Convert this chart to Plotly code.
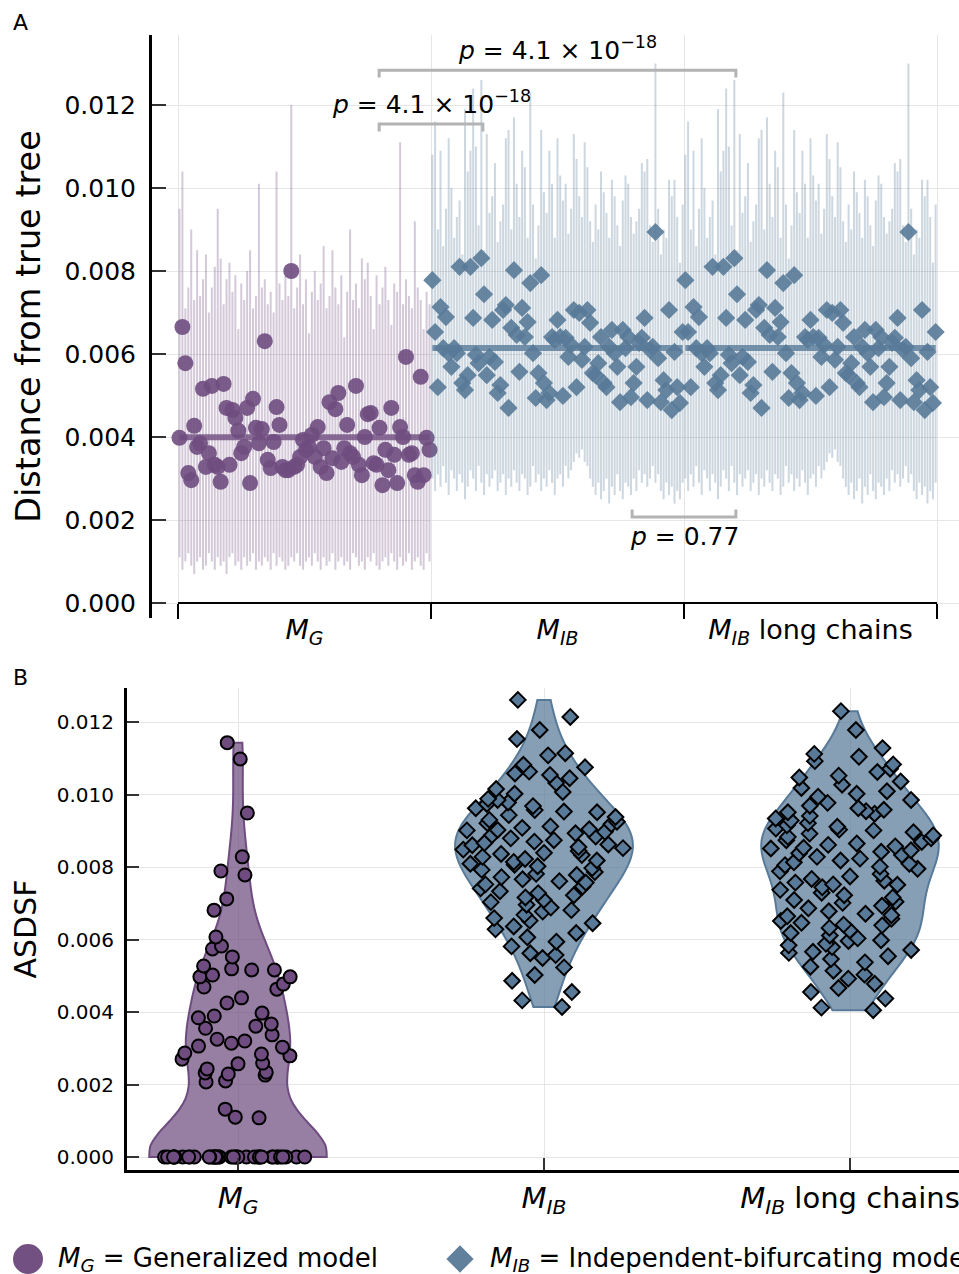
import numpy as np
import plotly.graph_objects as go

# ---------------- data ----------------
GROUP_LABELS = ["<i>M</i><sub><i>G</i></sub>",
                "<i>M</i><sub><i>IB</i></sub>",
                "<i>M</i><sub><i>IB</i></sub> long chains"]
LEGEND_LABELS = ["<i>M</i><sub><i>G</i></sub> = Generalized model",
                 "<i>M</i><sub><i>IB</i></sub> = Independent-bifurcating model"]
Y_TICKS = [0.000, 0.002, 0.004, 0.006, 0.008, 0.010, 0.012]

# Panel A: distance from true tree, point estimate with interval, per replicate
MG_DIST = [0.00398, 0.00665, 0.00578, 0.00313, 0.00296, 0.00427, 0.00376, 0.00385, 0.00516, 0.00328,
           0.00361, 0.00523, 0.00333, 0.00328, 0.00292, 0.00528, 0.00470, 0.00333, 0.00465, 0.00446,
           0.00415, 0.00361, 0.00376, 0.00470, 0.00289, 0.00492, 0.00422, 0.00385, 0.00419, 0.00631,
           0.00345, 0.00325, 0.00388, 0.00472, 0.00429, 0.00328, 0.00320, 0.00320, 0.00800, 0.00328,
           0.00333, 0.00352, 0.00393, 0.00369, 0.00376, 0.00405, 0.00352, 0.00424, 0.00328, 0.00373,
           0.00313, 0.00484, 0.00349, 0.00467, 0.00506, 0.00340, 0.00373, 0.00429, 0.00361, 0.00352,
           0.00523, 0.00333, 0.00308, 0.00400, 0.00455, 0.00458, 0.00337, 0.00333, 0.00422, 0.00284,
           0.00369, 0.00320, 0.00470, 0.00357, 0.00289, 0.00424, 0.00400, 0.00593, 0.00357, 0.00361,
           0.00308, 0.00292, 0.00545, 0.00308, 0.00398, 0.00369]
MG_LO = [0.0011, 0.0008, 0.0010, 0.0012, 0.0009, 0.0007, 0.0010, 0.0011, 0.0008, 0.0009,
         0.0012, 0.0010, 0.0008, 0.0011, 0.0009, 0.0010, 0.0007, 0.0011, 0.0012, 0.0009,
         0.0010, 0.0008, 0.0011, 0.0009, 0.0010, 0.0012, 0.0008, 0.0010, 0.0009, 0.0011,
         0.0010, 0.0008, 0.0012, 0.0009, 0.0011, 0.0010, 0.0008, 0.0009, 0.0011, 0.0010,
         0.0012, 0.0009, 0.0008, 0.0010, 0.0011, 0.0009, 0.0012, 0.0010, 0.0008, 0.0011,
         0.0009, 0.0010, 0.0012, 0.0008, 0.0010, 0.0011, 0.0009, 0.0010, 0.0008, 0.0012,
         0.0011, 0.0009, 0.0010, 0.0008, 0.0011, 0.0010, 0.0012, 0.0009, 0.0008, 0.0010,
         0.0011, 0.0009, 0.0012, 0.0010, 0.0008, 0.0011, 0.0009, 0.0010, 0.0012, 0.0008,
         0.0010, 0.0011, 0.0009, 0.0008, 0.0012, 0.0010]
MG_HI = [0.0095, 0.0104, 0.0071, 0.0076, 0.0090, 0.0073, 0.0085, 0.0074, 0.0078, 0.0084,
         0.0070, 0.0076, 0.0081, 0.0095, 0.0083, 0.0072, 0.0078, 0.0082, 0.0075, 0.0079,
         0.0066, 0.0077, 0.0073, 0.0080, 0.0085, 0.0071, 0.0074, 0.0101, 0.0076, 0.0078,
         0.0072, 0.0075, 0.0070, 0.0104, 0.0077, 0.0073, 0.0079, 0.0074, 0.0120, 0.0071,
         0.0076, 0.0084, 0.0072, 0.0078, 0.0065, 0.0075, 0.0080, 0.0073, 0.0077, 0.0086,
         0.0071, 0.0074, 0.0085, 0.0076, 0.0072, 0.0079, 0.0064, 0.0075, 0.0090, 0.0073,
         0.0077, 0.0071, 0.0083, 0.0078, 0.0082, 0.0074, 0.0066, 0.0079, 0.0072, 0.0076,
         0.0081, 0.0073, 0.0067, 0.0077, 0.0075, 0.0111, 0.0072, 0.0078, 0.0074, 0.0071,
         0.0092, 0.0076, 0.0073, 0.0066, 0.0075, 0.0072]

MIB_DIST = [0.00778, 0.00653, 0.00520, 0.00713, 0.00614, 0.00689, 0.00602, 0.00569, 0.00614, 0.00602,
            0.00810, 0.00530, 0.00513, 0.00549, 0.00810, 0.00687, 0.00598, 0.00578, 0.00831, 0.00744,
            0.00549, 0.00593, 0.00682, 0.00581, 0.00506, 0.00525, 0.00706, 0.00718, 0.00470, 0.00663,
            0.00802, 0.00646, 0.00557, 0.00711, 0.00641, 0.00677, 0.00771, 0.00602, 0.00494, 0.00554,
            0.00790, 0.00530, 0.00489, 0.00506, 0.00641, 0.00634, 0.00682, 0.00641, 0.00499, 0.00639,
            0.00593, 0.00622, 0.00706, 0.00520, 0.00699, 0.00586, 0.00617, 0.00706, 0.00675, 0.00554,
            0.00549, 0.00578, 0.00641, 0.00530, 0.00520, 0.00617, 0.00658, 0.00602, 0.00569, 0.00484,
            0.00658, 0.00614, 0.00641, 0.00496, 0.00530, 0.00569, 0.00627, 0.00639, 0.00687, 0.00489,
            0.00610, 0.00617, 0.00894, 0.00590, 0.00484, 0.00537, 0.00513, 0.00706, 0.00465, 0.00605,
            0.00520, 0.00482, 0.00653]
MIB_LO = [0.0030, 0.0027, 0.0031, 0.0028, 0.0033, 0.0029, 0.0026, 0.0032, 0.0030, 0.0027,
          0.0031, 0.0029, 0.0025, 0.0028, 0.0032, 0.0030, 0.0027, 0.0033, 0.0029, 0.0026,
          0.0031, 0.0028, 0.0030, 0.0032, 0.0027, 0.0029, 0.0031, 0.0026, 0.0030, 0.0028,
          0.0032, 0.0029, 0.0027, 0.0031, 0.0030, 0.0026, 0.0028, 0.0033, 0.0029, 0.0031,
          0.0027, 0.0030, 0.0028, 0.0032, 0.0029, 0.0026, 0.0030, 0.0031, 0.0028, 0.0033,
          0.0030, 0.0032, 0.0034, 0.0036, 0.0035, 0.0037, 0.0034, 0.0033, 0.0030, 0.0028,
          0.0026, 0.0029, 0.0025, 0.0027, 0.0030, 0.0024, 0.0028, 0.0026, 0.0031, 0.0027,
          0.0025, 0.0029, 0.0028, 0.0026, 0.0030, 0.0027, 0.0032, 0.0029, 0.0031, 0.0028,
          0.0030, 0.0033, 0.0029, 0.0031, 0.0027, 0.0025, 0.0029, 0.0026, 0.0028, 0.0024,
          0.0027, 0.0025, 0.0029]
MIB_HI = [0.0108, 0.0116, 0.0090, 0.0109, 0.0086, 0.0095, 0.0112, 0.0100, 0.0088, 0.0093,
          0.0097, 0.0084, 0.0119, 0.0104, 0.0109, 0.0124, 0.0110, 0.0091, 0.0126, 0.0085,
          0.0113, 0.0094, 0.0098, 0.0106, 0.0087, 0.0092, 0.0096, 0.0112, 0.0114, 0.0090,
          0.0117, 0.0101, 0.0093, 0.0109, 0.0105, 0.0088, 0.0123, 0.0096, 0.0083, 0.0091,
          0.0114, 0.0099, 0.0094, 0.0109, 0.0101, 0.0088, 0.0112, 0.0103, 0.0097, 0.0101,
          0.0089, 0.0095, 0.0113, 0.0107, 0.0098, 0.0093, 0.0111, 0.0105, 0.0092, 0.0087,
          0.0096, 0.0090, 0.0104, 0.0099, 0.0094, 0.0088, 0.0102, 0.0098, 0.0091, 0.0086,
          0.0097, 0.0103, 0.0101, 0.0093, 0.0089, 0.0092, 0.0095, 0.0106, 0.0104, 0.0107,
          0.0091, 0.0087, 0.0130, 0.0095, 0.0084, 0.0090, 0.0088, 0.0102, 0.0098, 0.0102,
          0.0093, 0.0082, 0.0096]
# the long-chain runs read identically to the M_IB runs in the reference
MIBL_DIST = list(MIB_DIST)
MIBL_LO = list(MIB_LO)
MIBL_HI = list(MIB_HI)

# p-values of the pairwise comparisons (group a, group b, label)
P_TESTS = [(0, 2, "<i>p</i> = 4.1 × 10<sup>−18</sup>"),
           (0, 1, "<i>p</i> = 4.1 × 10<sup>−18</sup>"),
           (1, 2, "<i>p</i> = 0.77")]

# Panel B: ASDSF per replicate
MG_ASDSF = [0.01143, 0.01098, 0.00949, 0.00828, 0.00789, 0.00778, 0.00712, 0.00681, 0.00607, 0.00582,
            0.00574, 0.00552, 0.00527, 0.00519, 0.00516, 0.00516, 0.00502, 0.00497, 0.00497, 0.00477,
            0.00469, 0.00463, 0.00439, 0.00425, 0.00397, 0.00389, 0.00384, 0.00367, 0.00361, 0.00355,
            0.00337, 0.00325, 0.00320, 0.00314, 0.00306, 0.00303, 0.00287, 0.00284, 0.00279, 0.00270,
            0.00259, 0.00257, 0.00243, 0.00234, 0.00232, 0.00229, 0.00226, 0.00210, 0.00207, 0.00132,
            0.00110, 0.00108,
            0.0, 0.0, 0.0, 0.0, 0.0, 0.0, 0.0, 0.0, 0.0, 0.0,
            0.0, 0.0, 0.0, 0.0, 0.0, 0.0, 0.0, 0.0, 0.0, 0.0,
            0.0, 0.0, 0.0, 0.0, 0.0, 0.0, 0.0, 0.0, 0.0, 0.0,
            0.0, 0.0, 0.0, 0.0, 0.0, 0.0, 0.0, 0.0, 0.0, 0.0]
MIB_ASDSF = [0.01261, 0.01214, 0.01178, 0.01153, 0.01114, 0.01108,
             0.01082, 0.01075, 0.01063, 0.01058, 0.01054,
             0.01045, 0.01032, 0.01015, 0.01007, 0.01002, 0.00988,
             0.00985, 0.00978, 0.00974, 0.00968, 0.00962, 0.00957, 0.00953, 0.00951,
             0.00943, 0.00938, 0.00930, 0.00925, 0.00921, 0.00918, 0.00912, 0.00908, 0.00904, 0.00902, 0.00901,
             0.00897, 0.00893, 0.00888, 0.00884, 0.00879, 0.00874, 0.00870, 0.00866, 0.00862, 0.00860, 0.00855, 0.00852,
             0.00848, 0.00844, 0.00839, 0.00836, 0.00833, 0.00828, 0.00822, 0.00818, 0.00814, 0.00809, 0.00806, 0.00802,
             0.00797, 0.00792, 0.00786, 0.00781, 0.00778, 0.00772, 0.00766, 0.00761, 0.00757, 0.00752,
             0.00746, 0.00741, 0.00733, 0.00728, 0.00722, 0.00716, 0.00709, 0.00703,
             0.00696, 0.00688, 0.00681, 0.00677, 0.00668, 0.00659, 0.00652,
             0.00645, 0.00636, 0.00628, 0.00618, 0.00606,
             0.00594, 0.00581, 0.00562, 0.00557,
             0.00549, 0.00523, 0.00502,
             0.00486, 0.00455,
             0.00432, 0.00414]
MIBL_ASDSF = [0.01230,
              0.01178,
              0.01128, 0.01112, 0.01104,
              0.01092, 0.01083, 0.01071, 0.01062, 0.01052,
              0.01047, 0.01036, 0.01027, 0.01018, 0.01009, 0.01002,
              0.00994, 0.00985, 0.00977, 0.00969, 0.00962, 0.00958, 0.00954, 0.00951,
              0.00947, 0.00941, 0.00934, 0.00928, 0.00921, 0.00915, 0.00911, 0.00906, 0.00903, 0.00901,
              0.00896, 0.00892, 0.00887, 0.00883, 0.00879, 0.00874, 0.00869, 0.00865, 0.00861, 0.00857, 0.00853, 0.00851,
              0.00846, 0.00842, 0.00838, 0.00833, 0.00828, 0.00823, 0.00818, 0.00813, 0.00809, 0.00805, 0.00801,
              0.00795, 0.00788, 0.00781, 0.00774, 0.00767, 0.00762, 0.00757, 0.00752, 0.00751,
              0.00744, 0.00737, 0.00729, 0.00722, 0.00716, 0.00709, 0.00704, 0.00701,
              0.00693, 0.00686, 0.00678, 0.00671, 0.00667, 0.00664, 0.00657, 0.00651,
              0.00646, 0.00641, 0.00639, 0.00632, 0.00625, 0.00618, 0.00611, 0.00603,
              0.00598, 0.00596, 0.00588, 0.00584, 0.00579, 0.00571, 0.00566, 0.00563, 0.00554,
              0.00546, 0.00537, 0.00525, 0.00514, 0.00503,
              0.00492, 0.00478, 0.00466, 0.00455,
              0.00437, 0.00412, 0.00405]

# ---------------- styles ----------------
FONT = "DejaVu Sans"
PURPLE = (111, 76, 128)
BLUE = (88, 122, 152)
GRID = "#e6e6e6"

W, H = 959, 1274


def rgba(c, a):
    return f"rgba({c[0]},{c[1]},{c[2]},{a})"


def px(x_img):
    return x_img / W


def py(y_img):
    return 1 - y_img / H


fig = go.Figure()

# ---------------- panel A ----------------
GROUP_SPAN = 100.0
panelA = [(MG_DIST, MG_LO, MG_HI, PURPLE, "circle", 16),
          (MIB_DIST, MIB_LO, MIB_HI, BLUE, "diamond", 14),
          (MIBL_DIST, MIBL_LO, MIBL_HI, BLUE, "diamond", 14)]

for g, (vals, lo, hi, col, sym, msize) in enumerate(panelA):
    v = np.array(vals)
    lo = np.array(lo)
    hi = np.array(hi)
    n = len(v)
    x = g * GROUP_SPAN + (np.arange(n) + 0.5) * GROUP_SPAN / n
    fig.add_trace(go.Scatter(
        x=x, y=v, mode="markers", xaxis="x", yaxis="y",
        marker=dict(size=1, color="rgba(0,0,0,0)"),
        error_y=dict(type="data", symmetric=False, array=hi - v, arrayminus=v - lo,
                     color=rgba(col, 0.3), thickness=2.0, width=0),
        showlegend=False, hoverinfo="skip"))
    m = float(np.mean(v))
    fig.add_trace(go.Scatter(
        x=[x.min(), x.max()], y=[m, m], mode="lines", xaxis="x", yaxis="y",
        line=dict(color=rgba(col, 0.8), width=6), showlegend=False, hoverinfo="skip"))
    fig.add_trace(go.Scatter(
        x=x, y=v, mode="markers", xaxis="x", yaxis="y", showlegend=False,
        marker=dict(symbol=sym, size=msize, color=rgba(col, 0.9), opacity=1,
                    line=dict(width=0))))

# x-axis baseline spanning the categories
fig.add_shape(type="line", xref="x", yref="y", x0=0, x1=3 * GROUP_SPAN, y0=0, y1=0,
              line=dict(color="black", width=2))

# comparison brackets
BRACKET_LEVELS = [0.01284, 0.01154, 0.00207]
BRACKET_SIDES = ["above", "above", "below"]
TICK = 0.00018
for (a, b, label), yl, side in zip(P_TESTS, BRACKET_LEVELS, BRACKET_SIDES):
    ca = a * GROUP_SPAN + GROUP_SPAN / 2
    cb = b * GROUP_SPAN + GROUP_SPAN / 2
    xl, xr = ca + 29.5, cb - 29.5
    ye = yl - TICK if side == "above" else yl + TICK
    fig.add_shape(type="path", xref="x", yref="y",
                  path=f"M {xl},{ye} L {xl},{yl} L {xr},{yl} L {xr},{ye}",
                  line=dict(color="#b3b3b3", width=3))
    fig.add_annotation(x=(xl + xr) / 2, y=yl, xref="x", yref="y", text=label,
                       showarrow=False, yanchor="bottom" if side == "above" else "top",
                       yshift=3 if side == "above" else -3,
                       font=dict(family=FONT, size=25, color="black"))

# ---------------- panel B ----------------
panelB = [(MG_ASDSF, PURPLE, "circle", 13, 0.001, 0.85),
          (MIB_ASDSF, BLUE, "diamond", 12, 0.0007, 0.95),
          (MIBL_ASDSF, BLUE, "diamond", 12, 0.0007, 0.95)]
for g, (vals, col, sym, msize, bw, jit) in enumerate(panelB):
    fig.add_trace(go.Violin(
        x0=g, y=vals, xaxis="x2", yaxis="y2", width=0.58, spanmode="hard",
        bandwidth=bw, scalemode="width", points="all", pointpos=0, jitter=jit,
        fillcolor=rgba(col, 0.72), line=dict(color=rgba(col, 1), width=2),
        marker=dict(symbol=sym, size=msize, color=rgba(col, 1), opacity=1,
                    line=dict(color="black", width=2)),
        box=dict(visible=False), meanline=dict(visible=False),
        showlegend=False, hoverinfo="y"))

# ---------------- legend (keys on a hidden axis strip) ----------------
LEG_SYMBOLS = ["circle", "diamond"]
LEG_COLORS = [rgba((115, 80, 130), 1), rgba((96, 128, 155), 1)]
LEG_SIZES = [30, 21]
leg_x = np.arange(len(LEGEND_LABELS))
fig.add_trace(go.Scatter(
    x=leg_x, y=[0] * len(leg_x), xaxis="x3", yaxis="y3", mode="markers", cliponaxis=False,
    marker=dict(symbol=LEG_SYMBOLS, size=LEG_SIZES, color=LEG_COLORS, opacity=1,
                line=dict(width=0)),
    showlegend=False, hoverinfo="skip"))
for i, lab in enumerate(LEGEND_LABELS):
    fig.add_annotation(x=i, y=0, xref="x3", yref="y3", text=lab, showarrow=False,
                       xanchor="left", yanchor="middle", xshift=28,
                       font=dict(family=FONT, size=26, color="black"))

# ---------------- layout ----------------
# pixel anchors (image coordinates)
A_LEFT, A_TOP, A_BOTTOM, A_ZERO = 152, 35, 618, 603
A_B0, A_B3 = 178, 937
B_LEFT, B_TOP, B_BOTTOM, B_ZERO = 127, 688, 1170, 1157
B_C0, B_STEP = 238, 306
A_PER = 41500.0   # px per unit value, panel A
B_PER = 36250.0   # px per unit value, panel B
LEG_Y, LEG_X0, LEG_STEP = 1259, 28, 432

a_unit = (A_B3 - A_B0) / (3 * GROUP_SPAN)
a_r0 = -(A_B0 - A_LEFT) / a_unit
a_r1 = 3 * GROUP_SPAN + (W - A_B3) / a_unit
b_r0 = -(B_C0 - B_LEFT) / B_STEP
b_r1 = (W - B_C0) / B_STEP
leg_r0 = -LEG_X0 / LEG_STEP
leg_r1 = leg_r0 + W / LEG_STEP
leg_dom = 2 * (1 - LEG_Y / H)

tickfontA = dict(family=FONT, size=25, color="black")
fig.update_layout(
    width=W, height=H, margin=dict(l=0, r=0, t=0, b=0),
    paper_bgcolor="white", plot_bgcolor="white",
    font=dict(family=FONT, color="black"),
    violinmode="overlay", showlegend=False,
    xaxis=dict(domain=[px(A_LEFT), 1], range=[a_r0, a_r1], anchor="free", position=py(A_ZERO),
               tickvals=[50, 150, 250], ticktext=GROUP_LABELS, ticks="", showgrid=False,
               showline=False, zeroline=False, tickfont=dict(family=FONT, size=27, color="black"),
               ticklabelstandoff=8, ticklabeloverflow="allow",
               minor=dict(tickvals=[0, 100, 200, 300], ticks="outside", ticklen=15,
                          tickcolor="black", tickwidth=1.5, showgrid=True, gridcolor=GRID,
                          gridwidth=1)),
    yaxis=dict(domain=[py(A_BOTTOM), py(A_TOP)],
               range=[-(A_BOTTOM - A_ZERO) / A_PER, (A_ZERO - A_TOP) / A_PER],
               tickvals=Y_TICKS, tickformat=".3f", ticks="inside", ticklen=14, tickcolor="#333",
               tickwidth=1.5, showline=True, linecolor="black", linewidth=3, showgrid=True,
               gridcolor=GRID, zeroline=False, tickfont=tickfontA, ticklabelstandoff=8,
               title=dict(text="Distance from true tree", font=dict(family=FONT, size=33.5),
                          standoff=14)),
    xaxis2=dict(domain=[px(B_LEFT), 1], range=[b_r0, b_r1], anchor="y2", type="linear",
                tickvals=[0, 1, 2], ticktext=GROUP_LABELS, ticks="inside", ticklen=12,
                tickcolor="#333", tickwidth=1.5, showline=True, linecolor="black", linewidth=3,
                showgrid=True, gridcolor=GRID, zeroline=False, ticklabeloverflow="allow",
                tickfont=dict(family=FONT, size=29, color="black")),
    yaxis2=dict(domain=[py(B_BOTTOM), py(B_TOP)],
                range=[-(B_BOTTOM - B_ZERO) / B_PER, (B_ZERO - B_TOP) / B_PER],
                anchor="x2", tickvals=Y_TICKS, tickformat=".3f", ticks="inside", ticklen=12,
                tickcolor="#333", tickwidth=1.5, showline=True, linecolor="black", linewidth=3,
                showgrid=True, gridcolor=GRID, zeroline=False,
                tickfont=dict(family=FONT, size=20, color="black"), ticklabelstandoff=6,
                title=dict(text="ASDSF", font=dict(family=FONT, size=30), standoff=12)),
    xaxis3=dict(domain=[0, 1], range=[leg_r0, leg_r1], anchor="y3", visible=False,
                fixedrange=True),
    yaxis3=dict(domain=[0, leg_dom], range=[-1, 1], anchor="x3", visible=False,
                fixedrange=True),
)

fig.add_annotation(x=px(20), y=py(22), xref="paper", yref="paper", text="A", showarrow=False,
                   xanchor="center", yanchor="middle", font=dict(family=FONT, size=22))
fig.add_annotation(x=px(20), y=py(677), xref="paper", yref="paper", text="B", showarrow=False,
                   xanchor="center", yanchor="middle", font=dict(family=FONT, size=22))

# remove the default page margin so the figure fills the window exactly
fig.write_html("out.html", config={"displayModeBar": False},
               post_script="document.body.style.margin='0';document.body.style.padding='0';")
